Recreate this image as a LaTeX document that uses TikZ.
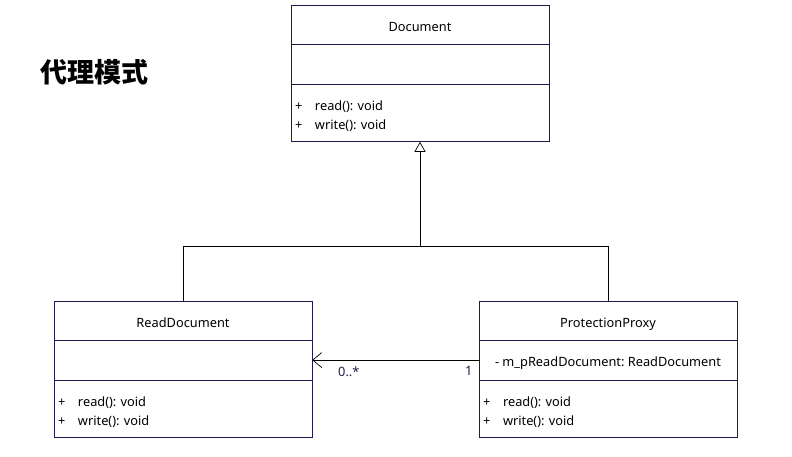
\documentclass[tikz,border=0pt]{standalone}
\usepackage{fontspec}
\setmainfont{Noto Sans}
\newfontfamily\cjk{Noto Sans CJK SC}
\usetikzlibrary{arrows.meta,positioning}
\frenchspacing

\definecolor{umlline}{HTML}{1A1A4D}

\begin{document}
\begin{tikzpicture}[
    x=1pt, y=-1pt,
    % Node styles
    classname/.style={draw=umlline, fill=white, minimum width=258pt, minimum height=39pt, inner sep=0pt, text height=13.5pt, text depth=0.5pt, font=\fontsize{12.8}{15}\selectfont},
    classattr/.style={draw=umlline, fill=white, minimum width=258pt, minimum height=40pt, inner sep=0pt, text height=14pt, text depth=0.5pt, font=\fontsize{12.8}{15}\selectfont},
    classops/.style={draw=umlline, fill=white, minimum width=258pt, minimum height=57pt, inner sep=0pt, text width=250pt, align=left, font=\fontsize{12.8}{19}\selectfont},
    inherit/.style={-{Triangle[open, length=10pt, width=11pt]}, line width=0.7pt},
    assoc/.style={-{Straight Barb[length=9pt, width=15pt]}, line width=0.7pt},
    mult/.style={font=\fontsize{12.8}{15}\selectfont, color=umlline}
]
\useasboundingbox (0,0) rectangle (792,456);

% Title
\node[font=\cjk\bfseries\fontsize{27}{31}\selectfont, anchor=west] (title) at (37,72) {代理模式};

% Base class
\node[classname] (docname) at (420,25) {Document};
\node[classattr, below=-0.35pt of docname] (docattr) {};
\node[classops, below=-0.35pt of docattr] (docops) {\rule{0pt}{16pt}\makebox[20pt][l]{+}read(): void\\\makebox[20pt][l]{+}write(): void};

% Real subject
\node[classname] (rdname) at (183,320.5) {ReadDocument};
\node[classattr, below=-0.35pt of rdname] (rdattr) {};
\node[classops, below=-0.35pt of rdattr] (rdops) {\rule{0pt}{16pt}\makebox[20pt][l]{+}read(): void\\\makebox[20pt][l]{+}write(): void};

% Proxy
\node[classname] (ppname) at (608,320.5) {ProtectionProxy};
\node[classattr, below=-0.35pt of ppname] (ppattr) {- m\_pReadDocument: ReadDocument};
\node[classops, below=-0.35pt of ppattr] (ppops) {\rule{0pt}{16pt}\makebox[20pt][l]{+}read(): void\\\makebox[20pt][l]{+}write(): void};

% Generalisation
\draw[line width=0.7pt] (rdname.north) -- ++(0,-54) -| (ppname.north);
\draw[inherit] (rdname.north) ++(237,-54) coordinate (join) -- (docops.south);

% Association
\draw[assoc] (ppattr.west) -- (rdattr.east)
    node[mult, pos=0.78, below=3pt] {0..*}
    node[mult, pos=0.06, below=3pt] {1};

\end{tikzpicture}
\end{document}
